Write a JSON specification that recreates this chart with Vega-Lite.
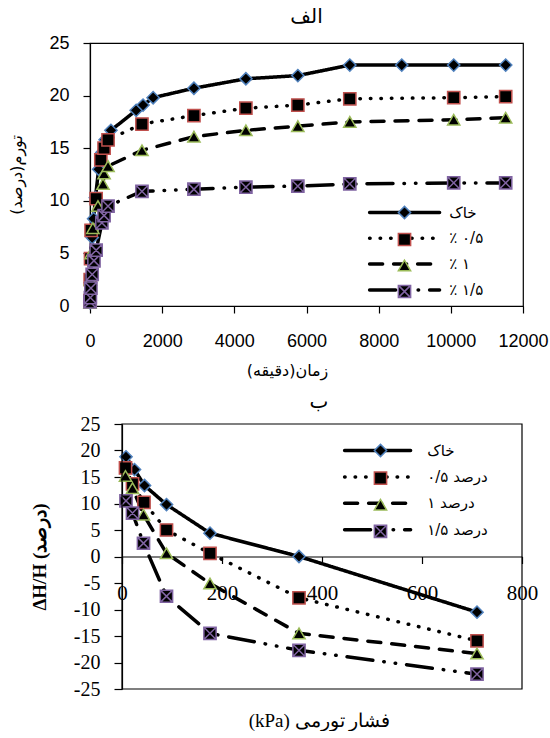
{
  "$schema": "https://vega.github.io/schema/vega-lite/v6.json",
  "background": "white",
  "padding": {"left": 8, "top": 6, "right": 0, "bottom": 0},
  "spacing": 13,
  "resolve": {"scale": {"strokeDash": "independent", "shape": "independent", "stroke": "independent"}, "legend": {"strokeDash": "independent", "shape": "independent", "stroke": "independent"}},
  "config": {
    "view": {"stroke": null},
    "axis": {"grid": false, "domainColor": "black", "tickColor": "black", "labelColor": "black", "titleColor": "black", "domainWidth": 1.2, "tickWidth": 1.2, "labelOverlap": false},
    "legend": {"labelColor": "black"},
    "title": {"color": "black"}
  },
  "datasets": {
    "top": [
      {"s": "خاک", "t": 0, "v": 0.3}, {"s": "خاک", "t": 10, "v": 2.2}, {"s": "خاک", "t": 30, "v": 4.5}, {"s": "خاک", "t": 60, "v": 6.5}, {"s": "خاک", "t": 100, "v": 8.3}, {"s": "خاک", "t": 150, "v": 10.3}, {"s": "خاک", "t": 240, "v": 13}, {"s": "خاک", "t": 330, "v": 14.6}, {"s": "خاک", "t": 420, "v": 15.8}, {"s": "خاک", "t": 580, "v": 16.7}, {"s": "خاک", "t": 1280, "v": 18.6}, {"s": "خاک", "t": 1470, "v": 19.1}, {"s": "خاک", "t": 1750, "v": 19.8}, {"s": "خاک", "t": 2880, "v": 20.7}, {"s": "خاک", "t": 4320, "v": 21.6}, {"s": "خاک", "t": 5760, "v": 21.9}, {"s": "خاک", "t": 7200, "v": 22.9}, {"s": "خاک", "t": 8640, "v": 22.9}, {"s": "خاک", "t": 10080, "v": 22.9}, {"s": "خاک", "t": 11520, "v": 22.9},
      {"s": "٪ ۰/۵", "t": 0, "v": 0.5}, {"s": "٪ ۰/۵", "t": 5, "v": 2.5}, {"s": "٪ ۰/۵", "t": 15, "v": 4.5}, {"s": "٪ ۰/۵", "t": 30, "v": 7.2}, {"s": "٪ ۰/۵", "t": 170, "v": 10.2}, {"s": "٪ ۰/۵", "t": 300, "v": 13.9}, {"s": "٪ ۰/۵", "t": 390, "v": 15}, {"s": "٪ ۰/۵", "t": 500, "v": 15.8}, {"s": "٪ ۰/۵", "t": 1440, "v": 17.3}, {"s": "٪ ۰/۵", "t": 2880, "v": 18.1}, {"s": "٪ ۰/۵", "t": 4320, "v": 18.8}, {"s": "٪ ۰/۵", "t": 5760, "v": 19.1}, {"s": "٪ ۰/۵", "t": 7200, "v": 19.7}, {"s": "٪ ۰/۵", "t": 10080, "v": 19.8}, {"s": "٪ ۰/۵", "t": 11520, "v": 19.9},
      {"s": "٪ ۱", "t": 0, "v": 0.3}, {"s": "٪ ۱", "t": 10, "v": 2.5}, {"s": "٪ ۱", "t": 30, "v": 5}, {"s": "٪ ۱", "t": 80, "v": 7.4}, {"s": "٪ ۱", "t": 220, "v": 9.5}, {"s": "٪ ۱", "t": 360, "v": 11.6}, {"s": "٪ ۱", "t": 390, "v": 12.6}, {"s": "٪ ۱", "t": 500, "v": 13.3}, {"s": "٪ ۱", "t": 1440, "v": 14.8}, {"s": "٪ ۱", "t": 2880, "v": 16.1}, {"s": "٪ ۱", "t": 4320, "v": 16.7}, {"s": "٪ ۱", "t": 5760, "v": 17.1}, {"s": "٪ ۱", "t": 7200, "v": 17.5}, {"s": "٪ ۱", "t": 10080, "v": 17.7}, {"s": "٪ ۱", "t": 11520, "v": 17.9},
      {"s": "٪ ۱/۵", "t": 0, "v": 0.4}, {"s": "٪ ۱/۵", "t": 10, "v": 0.8}, {"s": "٪ ۱/۵", "t": 25, "v": 1.7}, {"s": "٪ ۱/۵", "t": 60, "v": 3}, {"s": "٪ ۱/۵", "t": 110, "v": 4.3}, {"s": "٪ ۱/۵", "t": 170, "v": 5.3}, {"s": "٪ ۱/۵", "t": 330, "v": 7.9}, {"s": "٪ ۱/۵", "t": 390, "v": 8.6}, {"s": "٪ ۱/۵", "t": 500, "v": 9.5}, {"s": "٪ ۱/۵", "t": 1440, "v": 10.9}, {"s": "٪ ۱/۵", "t": 2880, "v": 11.1}, {"s": "٪ ۱/۵", "t": 4320, "v": 11.3}, {"s": "٪ ۱/۵", "t": 5760, "v": 11.4}, {"s": "٪ ۱/۵", "t": 7200, "v": 11.6}, {"s": "٪ ۱/۵", "t": 10080, "v": 11.7}, {"s": "٪ ۱/۵", "t": 11520, "v": 11.7}
    ],
    "bottom": [
      {"s": "خاک", "p": 8, "d": 18.8}, {"s": "خاک", "p": 25, "d": 16.4}, {"s": "خاک", "p": 45, "d": 13.4}, {"s": "خاک", "p": 89, "d": 9.8}, {"s": "خاک", "p": 176, "d": 4.4}, {"s": "خاک", "p": 354, "d": 0}, {"s": "خاک", "p": 710, "d": -10.5},
      {"s": "۰/۵ درصد", "p": 7, "d": 16.7}, {"s": "۰/۵ درصد", "p": 21, "d": 13.7}, {"s": "۰/۵ درصد", "p": 44, "d": 10.2}, {"s": "۰/۵ درصد", "p": 89, "d": 5}, {"s": "۰/۵ درصد", "p": 176, "d": 0.6}, {"s": "۰/۵ درصد", "p": 354, "d": -7.8}, {"s": "۰/۵ درصد", "p": 710, "d": -15.9},
      {"s": "۱ درصد", "p": 7, "d": 15.2}, {"s": "۱ درصد", "p": 21, "d": 12.9}, {"s": "۱ درصد", "p": 43, "d": 7.9}, {"s": "۱ درصد", "p": 89, "d": 0.6}, {"s": "۱ درصد", "p": 176, "d": -5.1}, {"s": "۱ درصد", "p": 354, "d": -14.5}, {"s": "۱ درصد", "p": 710, "d": -18.3},
      {"s": "۱/۵ درصد", "p": 8, "d": 10.5}, {"s": "۱/۵ درصد", "p": 21, "d": 8.2}, {"s": "۱/۵ درصد", "p": 43, "d": 2.5}, {"s": "۱/۵ درصد", "p": 89, "d": -7.5}, {"s": "۱/۵ درصد", "p": 176, "d": -14.5}, {"s": "۱/۵ درصد", "p": 354, "d": -17.7}, {"s": "۱/۵ درصد", "p": 710, "d": -22.2}
    ]
  },
  "vconcat": [
    {
      "width": 433,
      "height": 263,
      "view": {"stroke": "black", "strokeWidth": 1.2},
      "title": {"text": "الف", "font": "DejaVu Sans", "fontSize": 20, "fontWeight": "normal", "offset": 7},
      "data": {"name": "top"},
      "layer": [
        {
          "mark": {"type": "line", "color": "black", "strokeWidth": 3.5, "strokeCap": "round"},
          "encoding": {
            "x": {"field": "t", "type": "quantitative", "scale": {"domain": [0, 12000], "nice": false},
              "axis": {"values": [0, 2000, 4000, 6000, 8000, 10000, 12000], "format": "d", "tickSize": 7, "labelPadding": 19, "labelFont": "Liberation Sans", "labelFontSize": 18, "labelFlush": false, "labelOverlap": false,
                "title": "زمان(دقیقه)", "titleFont": "DejaVu Sans", "titleFontSize": 16, "titleFontWeight": "normal", "titlePadding": 12, "titleX": 197, "titleAlign": "center"}},
            "y": {"field": "v", "type": "quantitative", "scale": {"domain": [0, 25], "nice": false},
              "axis": {"values": [0, 5, 10, 15, 20, 25], "tickSize": 7, "labelPadding": 14, "labelFont": "Liberation Sans", "labelFontSize": 18, "labelOverlap": false,
                "title": "تورم(درصد)", "titleFont": "DejaVu Sans", "titleFontSize": 16, "titleFontWeight": "normal", "titlePadding": 24}},
            "strokeDash": {"field": "s", "type": "nominal",
              "scale": {"range": [[1, 0], [0.5, 10], [13, 11], [26, 11, 0.5, 11, 0.5, 11]]},
              "legend": {"title": null, "orient": "none", "legendX": 307.1, "legendY": 162, "direction": "vertical", "symbolType": "M-6.83,0H6.83", "symbolSize": 105, "symbolStrokeWidth": 3.5, "symbolStrokeColor": "black", "labelFont": "DejaVu Sans", "labelFontSize": 15, "labelOffset": 37.1, "rowPadding": 9.8, "padding": 0,
                "encoding": {"symbols": {"strokeCap": {"value": "round"}}}}}
          }
        },
        {
          "mark": {"type": "point", "filled": true, "fill": "black", "opacity": 1, "size": 150, "strokeWidth": 1.5},
          "encoding": {
            "x": {"field": "t", "type": "quantitative"},
            "y": {"field": "v", "type": "quantitative"},
            "shape": {"field": "s", "type": "nominal",
              "scale": {"domain": ["خاک", "٪ ۰/۵", "٪ ۱", "٪ ۱/۵"], "range": ["diamond", "square", "triangle-up", "M-1,-1H1V1H-1Z M-1,-1L1,1 M1,-1L-1,1"]},
              "legend": {"title": null, "orient": "none", "legendX": 307, "legendY": 162, "direction": "vertical", "symbolSize": 150, "symbolStrokeWidth": 1.5, "symbolFillColor": "black", "symbolOpacity": 1, "labelFont": "DejaVu Sans", "labelFontSize": 15, "labelOpacity": 0, "labelExpr": "' '", "rowPadding": 8, "padding": 0}},
            "stroke": {"field": "s", "type": "nominal",
              "scale": {"domain": ["خاک", "٪ ۰/۵", "٪ ۱", "٪ ۱/۵"], "range": ["#4F81BD", "#C0504D", "#9BBB59", "#8064A2"]},
              "legend": {"title": null, "orient": "none", "legendX": 307, "legendY": 162, "direction": "vertical", "symbolSize": 150, "symbolStrokeWidth": 1.5, "symbolFillColor": "black", "symbolOpacity": 1, "labelFont": "DejaVu Sans", "labelFontSize": 15, "labelOpacity": 0, "labelExpr": "' '", "rowPadding": 8, "padding": 0}}
          }
        }
      ]
    },
    {
      "width": 432,
      "height": 265,
      "view": {"stroke": null},
      "title": {"text": "ب", "font": "DejaVu Sans", "fontSize": 20, "fontWeight": "normal", "offset": 2, "dx": 13},
      "data": {"name": "bottom"},
      "layer": [
        {
          "mark": {"type": "line", "color": "black", "strokeWidth": 3.5, "strokeCap": "round"},
          "encoding": {
            "x": {"field": "p", "type": "quantitative", "scale": {"domain": [0, 800], "range": [32, 432], "nice": false},
              "axis": {"orient": "bottom", "offset": -132.5, "values": [0, 200, 400, 600, 800], "tickSize": 7, "labelPadding": 19, "labelFont": "Liberation Serif", "labelFontSize": 21, "labelFlush": false, "labelOverlap": false,
                "title": "(kPa) فشار تورمی", "titleFont": "Liberation Serif", "titleFontSize": 19, "titleFontWeight": "normal", "titleX": 229, "titleY": 164, "titleBaseline": "middle", "titleAlign": "center"}},
            "y": {"field": "d", "type": "quantitative", "scale": {"domain": [-25, 25], "nice": false},
              "axis": {"offset": -32, "values": [-25, -20, -15, -10, -5, 0, 5, 10, 15, 20, 25], "tickCount": 11, "tickSize": 8, "labelPadding": 14, "labelFont": "Liberation Serif", "labelFontSize": 20, "labelOverlap": false, "labelExpr": "'' + datum.value",
                "title": "ΔH/H (درصد)", "titleFont": "Liberation Serif", "titleFontSize": 19, "titleFontWeight": "bold", "titlePadding": 24}},
            "strokeDash": {"field": "s", "type": "nominal",
              "scale": {"range": [[1, 0], [0.5, 10], [13, 11], [26, 11, 0.5, 11, 0.5, 11]]},
              "legend": {"title": null, "orient": "none", "legendX": 280.1, "legendY": 19, "direction": "vertical", "symbolType": "M-6.44,0H6.44", "symbolSize": 105, "symbolStrokeWidth": 3.5, "symbolStrokeColor": "black", "labelFont": "DejaVu Sans", "labelFontSize": 15, "labelOffset": 42.1, "rowPadding": 10.4, "padding": 0,
                "encoding": {"symbols": {"strokeCap": {"value": "round"}}}}}
          }
        },
        {
          "mark": {"type": "point", "filled": true, "fill": "black", "opacity": 1, "size": 150, "strokeWidth": 1.5},
          "encoding": {
            "x": {"field": "p", "type": "quantitative"},
            "y": {"field": "d", "type": "quantitative"},
            "shape": {"field": "s", "type": "nominal",
              "scale": {"domain": ["خاک", "۰/۵ درصد", "۱ درصد", "۱/۵ درصد"], "range": ["diamond", "square", "triangle-up", "M-1,-1H1V1H-1Z M-1,-1L1,1 M1,-1L-1,1"]},
              "legend": {"title": null, "orient": "none", "legendX": 283, "legendY": 19, "direction": "vertical", "symbolSize": 150, "symbolStrokeWidth": 1.5, "symbolFillColor": "black", "symbolOpacity": 1, "labelFont": "DejaVu Sans", "labelFontSize": 15, "labelOpacity": 0, "labelExpr": "' '", "rowPadding": 8.6, "padding": 0}},
            "stroke": {"field": "s", "type": "nominal",
              "scale": {"domain": ["خاک", "۰/۵ درصد", "۱ درصد", "۱/۵ درصد"], "range": ["#4F81BD", "#C0504D", "#9BBB59", "#8064A2"]},
              "legend": {"title": null, "orient": "none", "legendX": 283, "legendY": 19, "direction": "vertical", "symbolSize": 150, "symbolStrokeWidth": 1.5, "symbolFillColor": "black", "symbolOpacity": 1, "labelFont": "DejaVu Sans", "labelFontSize": 15, "labelOpacity": 0, "labelExpr": "' '", "rowPadding": 8.6, "padding": 0}}
          }
        },
        {
          "data": {"values": [{}]},
          "mark": {"type": "rect", "filled": false, "color": "black", "strokeWidth": 1.2},
          "encoding": {
            "x": {"datum": 0, "type": "quantitative",
              "axis": {"orient": "bottom", "offset": -132.5, "values": [0, 200, 400, 600, 800], "tickSize": 7, "labelPadding": 19, "labelFont": "Liberation Serif", "labelFontSize": 21, "labelFlush": false, "labelOverlap": false,
                "title": "(kPa) فشار تورمی", "titleFont": "Liberation Serif", "titleFontSize": 19, "titleFontWeight": "normal", "titleX": 229, "titleY": 164, "titleBaseline": "middle", "titleAlign": "center"}},
            "x2": {"datum": 800},
            "y": {"datum": -25, "type": "quantitative",
              "axis": {"offset": -32, "values": [-25, -20, -15, -10, -5, 0, 5, 10, 15, 20, 25], "tickCount": 11, "tickSize": 8, "labelPadding": 14, "labelFont": "Liberation Serif", "labelFontSize": 20, "labelOverlap": false, "labelExpr": "'' + datum.value",
                "title": "ΔH/H (درصد)", "titleFont": "Liberation Serif", "titleFontSize": 19, "titleFontWeight": "bold", "titlePadding": 24}},
            "y2": {"datum": 25}
          }
        }
      ]
    }
  ]
}
